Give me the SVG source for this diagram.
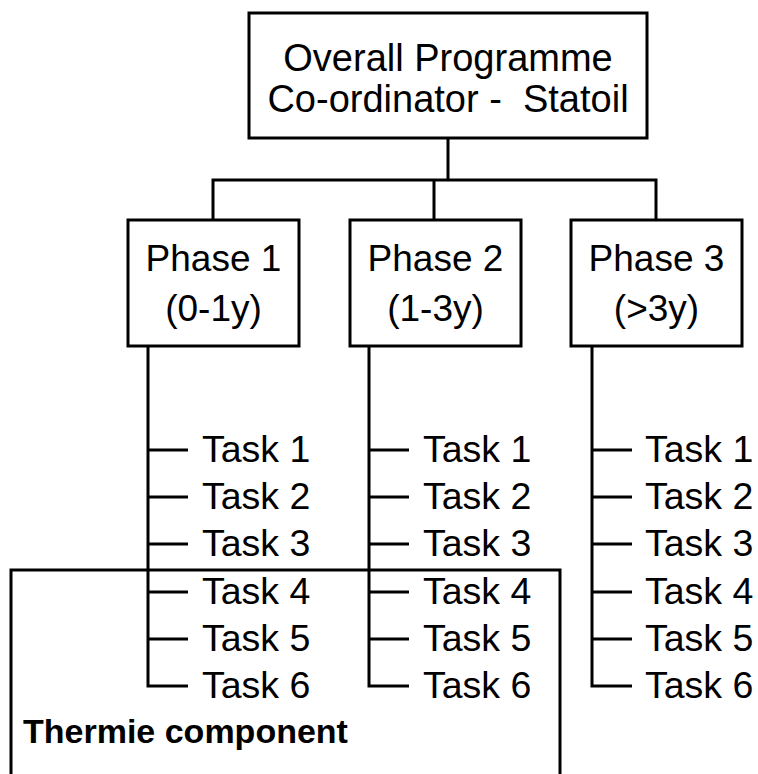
<svg xmlns="http://www.w3.org/2000/svg" width="758" height="774" viewBox="0 0 758 774">
<style>
.box{fill:#fff;stroke:#000;stroke-width:3}
.ln{fill:none;stroke:#000;stroke-width:3}
text{font-family:"Liberation Sans",Arial,sans-serif;fill:#000}
.t{font-size:37.5px}
.h{font-size:38px;text-anchor:middle}
.p{font-size:37px;text-anchor:middle}
.b{font-size:34px;font-weight:bold}
</style>
<rect width="758" height="774" fill="#fff"/>
<g id="thermie">
<path class="ln" d="M11,774 V570 H560 V774"/>
<text class="b" x="23" y="743">Thermie component</text>
</g>
<g id="connectors">
<path class="ln" d="M448,138 V180 M213,220 V180 H656 V220 M434,180 V220"/>
<path class="ln" d="M148,346 V686 H188 M148,450 H188 M148,497 H188 M148,544 H188 M148,592 H188 M148,639 H188"/>
<path class="ln" d="M369,346 V686 H409 M369,450 H409 M369,497 H409 M369,544 H409 M369,592 H409 M369,639 H409"/>
<path class="ln" d="M592,346 V686 H632 M592,450 H632 M592,497 H632 M592,544 H632 M592,592 H632 M592,639 H632"/>
</g>
<g id="coordinator">
<rect class="box" x="249" y="13" width="398" height="125"/>
<text class="h" x="448" y="71">Overall Programme</text>
<text class="h" x="448" y="112" xml:space="preserve">Co-ordinator -  Statoil</text>
</g>
<g id="phase1">
<rect class="box" x="128" y="220" width="171" height="126"/>
<text class="p" x="213.5" y="271">Phase 1</text>
<text class="p" x="213.5" y="321">(0-1y)</text>
</g>
<g id="phase2">
<rect class="box" x="350" y="220" width="171" height="126"/>
<text class="p" x="435.5" y="271">Phase 2</text>
<text class="p" x="435.5" y="321">(1-3y)</text>
</g>
<g id="phase3">
<rect class="box" x="571" y="220" width="171" height="126"/>
<text class="p" x="656.5" y="271">Phase 3</text>
<text class="p" x="656.5" y="321">(&gt;3y)</text>
</g>
<g id="tasks1" class="t">
<text x="202" y="462">Task 1</text>
<text x="202" y="509">Task 2</text>
<text x="202" y="556">Task 3</text>
<text x="202" y="604">Task 4</text>
<text x="202" y="651">Task 5</text>
<text x="202" y="698">Task 6</text>
</g>
<g id="tasks2" class="t">
<text x="423" y="462">Task 1</text>
<text x="423" y="509">Task 2</text>
<text x="423" y="556">Task 3</text>
<text x="423" y="604">Task 4</text>
<text x="423" y="651">Task 5</text>
<text x="423" y="698">Task 6</text>
</g>
<g id="tasks3" class="t">
<text x="645" y="462">Task 1</text>
<text x="645" y="509">Task 2</text>
<text x="645" y="556">Task 3</text>
<text x="645" y="604">Task 4</text>
<text x="645" y="651">Task 5</text>
<text x="645" y="698">Task 6</text>
</g>
</svg>
